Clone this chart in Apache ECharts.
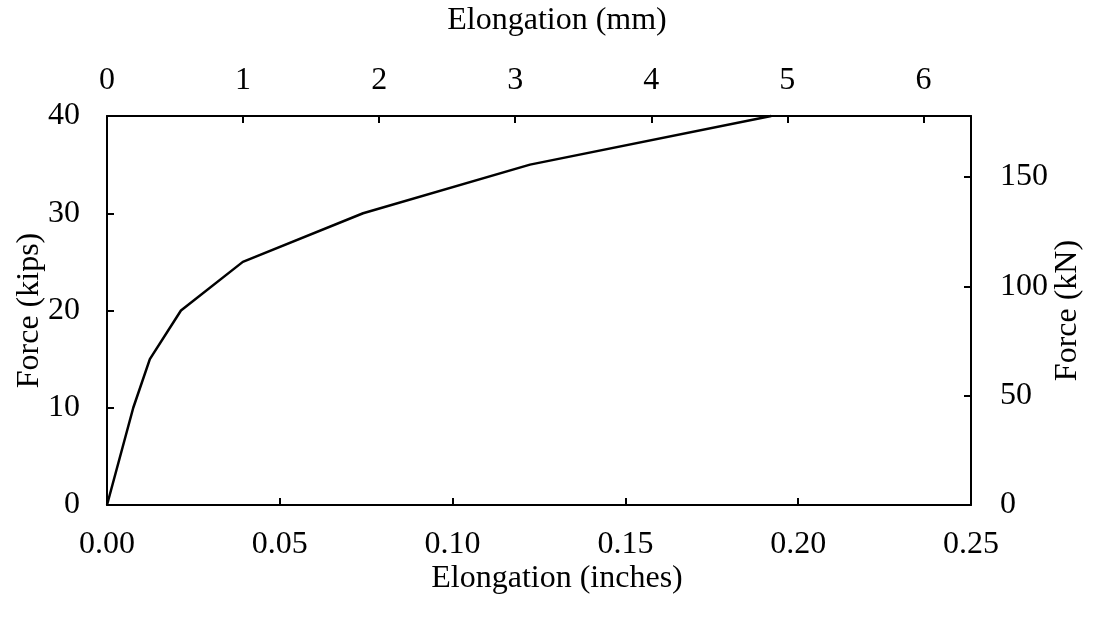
<!DOCTYPE html>
<html>
<head>
<meta charset="utf-8">
<script src="https://cdn.jsdelivr.net/npm/echarts@6/dist/echarts.min.js"></script>
<style>
  html, body { margin: 0; padding: 0; background: #fff; }
  #chart { width: 1093px; height: 624px; }
</style>
</head>
<body>
<div id="chart"></div>
<script>
// elongation (inches) vs force (kips)
const elongIn = [0, 0.0076, 0.0124, 0.0214, 0.0393, 0.0741, 0.1224, 0.1922]
const forceKips = [0, 10, 15, 20, 25, 30, 35, 40]

// secondary scales
const IN_TO_MM = 25.4
const KIP_TO_KN = 4.44822
const inchTicks = [0, 0.25, 0.05]   // min, max, step
const kipTicks = [0, 40, 10]
const mmStep = 1
const knStep = 50

const font = 'Liberation Serif, Times New Roman, serif'
const black = '#000'

const chart = echarts.init(document.getElementById('chart'))

const lineStyle = { color: black, width: 2 }
const axisLine = { show: true, onZero: false, lineStyle: lineStyle }
const tick = { show: true, inside: true, length: 7, lineStyle: { color: black, width: 2 } }
const label = (margin, fmt) => ({
  color: black, fontFamily: font, fontSize: 32, margin: margin, formatter: fmt
})
const nameStyle = { color: black, fontFamily: font, fontSize: 32 }
// x titles sit a little right of the plot centre
const xNameStyle = Object.assign({}, nameStyle, { padding: [0, 0, 0, 36] })
const intOnly = v => (Math.abs(v - Math.round(v)) < 1e-6 ? String(Math.round(v)) : '')

const option = {
  backgroundColor: '#fff',
  animation: false,
  grid: { left: 107, right: 122, top: 115, bottom: 119 },
  xAxis: [
    {
      type: 'value',
      position: 'bottom',
      min: inchTicks[0], max: inchTicks[1], interval: inchTicks[2],
      name: 'Elongation (inches)', nameLocation: 'middle', nameGap: 58, nameTextStyle: xNameStyle,
      nameMoveOverlap: false,
      axisLine: axisLine,
      axisTick: tick,
      axisLabel: label(24, v => v.toFixed(2)),
      splitLine: { show: false }
    },
    {
      type: 'value',
      position: 'top',
      min: 0, max: inchTicks[1] * IN_TO_MM, interval: mmStep,
      name: 'Elongation (mm)', nameLocation: 'middle', nameGap: 79, nameTextStyle: xNameStyle,
      nameMoveOverlap: false,
      axisLine: axisLine,
      axisTick: tick,
      axisLabel: label(19, intOnly),
      splitLine: { show: false }
    }
  ],
  yAxis: [
    {
      type: 'value',
      position: 'left',
      min: kipTicks[0], max: kipTicks[1], interval: kipTicks[2],
      name: 'Force (kips)', nameLocation: 'middle', nameGap: 61, nameTextStyle: nameStyle,
      nameMoveOverlap: false,
      axisLine: axisLine,
      axisTick: tick,
      axisLabel: label(27),
      splitLine: { show: false }
    },
    {
      type: 'value',
      position: 'right',
      min: 0, max: kipTicks[1] * KIP_TO_KN, interval: knStep,
      name: 'Force (kN)', nameLocation: 'middle', nameGap: 81, nameTextStyle: nameStyle,
      nameMoveOverlap: false,
      axisLine: axisLine,
      axisTick: tick,
      axisLabel: label(29, intOnly),
      splitLine: { show: false }
    }
  ],
  series: [
    {
      type: 'line',
      xAxisIndex: 0,
      yAxisIndex: 0,
      data: elongIn.map((x, i) => [x, forceKips[i]]),
      showSymbol: false,
      lineStyle: { color: black, width: 2.5 },
      clip: false
    }
  ]
}

chart.setOption(option)
</script>
</body>
</html>
